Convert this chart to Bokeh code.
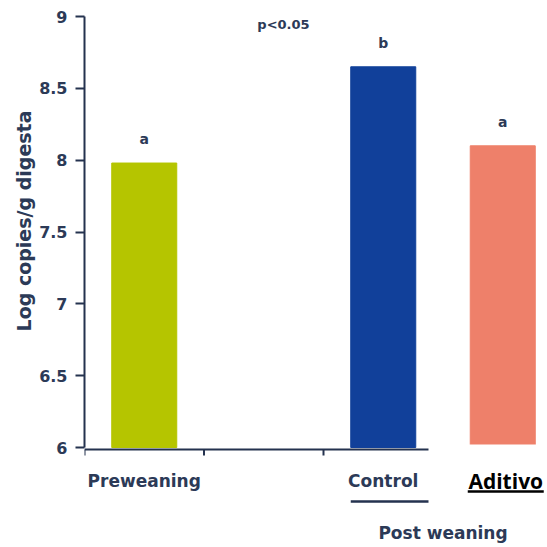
from bokeh.plotting import figure
from bokeh.models import ColumnDataSource, Label, LabelSet, Arrow, FixedTicker, Span, Title
from bokeh.core.properties import value
from bokeh.embed import file_html
from bokeh.resources import INLINE

# ---- data ----
groups = ["Preweaning", "Control", "Aditivo"]
positions = [0.5, 2.5, 3.5]
values = [7.98, 8.65, 8.10]
letters = ["a", "b", "a"]
colors = ["#b5c500", "#11409a", "#ee806a"]
yticks = [6, 6.5, 7, 7.5, 8, 8.5, 9]
ytick_labels = ["6", "6.5", "7", "7.5", "8", "8.5", "9"]
xticks = [0, 1, 2, 3]
group_label = "Post weaning"
p_text = "p<0.05"
y_title = "Log copies/g digesta"

# ---- layout ----
W, H = 547, 547
LEFT, TOP = 84, 16
Y0, Y1 = 6, 9
AXIS_PX = 431                      # pixels between y=6 and y=9
PX = (Y1 - Y0) / AXIS_PX           # data units per pixel (y)
XPX = 1 / 119.5                    # data units per pixel (x)
y_bottom = Y0 - (H - TOP - AXIS_PX) * PX
x_end = (W - LEFT) * XPX

BAR_W = 0.544
TXT = "#2c3a57"
AXC = "#24324f"
FONT = "DejaVu Sans"

src = ColumnDataSource(dict(x=positions, top=values, letter=letters, color=colors))

p = figure(width=W, height=H, x_range=(0, x_end), y_range=(y_bottom, Y1),
           output_backend="svg", toolbar_location=None, x_axis_location=None,
           min_border_left=LEFT, min_border_top=TOP, min_border_bottom=0,
           min_border_right=0)
p.grid.visible = False
p.outline_line_color = None
p.background_fill_color = "white"
p.border_fill_color = "white"

# x axis (drawn inside the frame so the texts below it are not clipped)
p.add_layout(Span(location=Y0 - 2 * PX, dimension="width", line_color=AXC,
                  line_width=2, level="underlay"))
p.segment(x0=xticks, x1=xticks, y0=[Y0 - 2 * PX] * len(xticks),
          y1=[Y0 - 8 * PX] * len(xticks), line_color=AXC, line_width=2)

# post weaning bracket
p.add_layout(Arrow(end=None, x_start=positions[1] - BAR_W / 2,
                   x_end=positions[2] + BAR_W / 2,
                   y_start=Y0 - 54 * PX, y_end=Y0 - 54 * PX,
                   line_color=AXC, line_width=2.5, level="underlay"))

p.vbar(x="x", top="top", bottom=Y0, width=BAR_W, color="color", source=src)

# white patch pasted over the lower right corner
p.quad(left=[(428 - LEFT) * XPX], right=[x_end], top=[Y0 + 3 * PX],
       bottom=[Y0 - 62 * PX], color="white", line_color=None)

p.add_layout(LabelSet(x="x", y="top", text="letter", source=src, y_offset=24,
                      text_align="center", text_baseline="middle",
                      text_font=value(FONT), text_font_style="bold",
                      text_font_size="14px", text_color=TXT))

# y axis
p.yaxis.bounds = (Y0, Y1)
p.yaxis.ticker = FixedTicker(ticks=yticks)
p.yaxis.major_label_overrides = dict(zip(yticks, ytick_labels))
p.yaxis.minor_tick_line_color = None
p.yaxis.major_tick_out = 9
p.yaxis.major_tick_in = 0
p.yaxis.major_label_standoff = 8
p.yaxis.axis_line_color = AXC
p.yaxis.axis_line_width = 2
p.yaxis.major_tick_line_color = AXC
p.yaxis.major_tick_line_width = 2
p.yaxis.major_label_text_font = FONT
p.yaxis.major_label_text_font_style = "bold"
p.yaxis.major_label_text_font_size = "16px"
p.yaxis.major_label_text_color = TXT

p.add_layout(Title(text=y_title, align="right", offset=94, standoff=4,
                   text_font=FONT, text_font_style="bold",
                   text_font_size="19px", text_color=TXT), "left")

# category labels
for g, x in zip(groups[:2], positions[:2]):
    p.add_layout(Label(x=x, y=Y0 - 33 * PX, text=g, text_align="center",
                       text_baseline="alphabetic", text_font=FONT,
                       text_font_style="bold", text_font_size="17px",
                       text_color=TXT))

p.add_layout(Label(x=(positions[1] + positions[2]) / 2, y=Y0 - 85 * PX,
                   text=group_label, text_align="center",
                   text_baseline="alphabetic", text_font=FONT,
                   text_font_style="bold", text_font_size="17px",
                   text_color=TXT))

# Aditivo label (underlined)
ax = positions[2] + 3 * XPX
p.add_layout(Label(x=ax, y=Y0 - 33 * PX, text=groups[2],
                   text_align="center", text_baseline="alphabetic",
                   text_font="Open Sans", text_font_style="bold",
                   text_font_size="21px", text_color="black"))
p.add_layout(Arrow(end=None, x_start=ax - 38 * XPX, x_end=ax + 38 * XPX,
                   y_start=Y0 - 44 * PX, y_end=Y0 - 44 * PX,
                   line_color="black", line_width=2.5))

p.add_layout(Label(x=1.665, y=8.944, text=p_text, text_align="center",
                   text_baseline="middle", text_font=FONT, text_font_style="bold",
                   text_font_size="13px", text_color=TXT))

open("out.html", "w").write(file_html(p, INLINE))
